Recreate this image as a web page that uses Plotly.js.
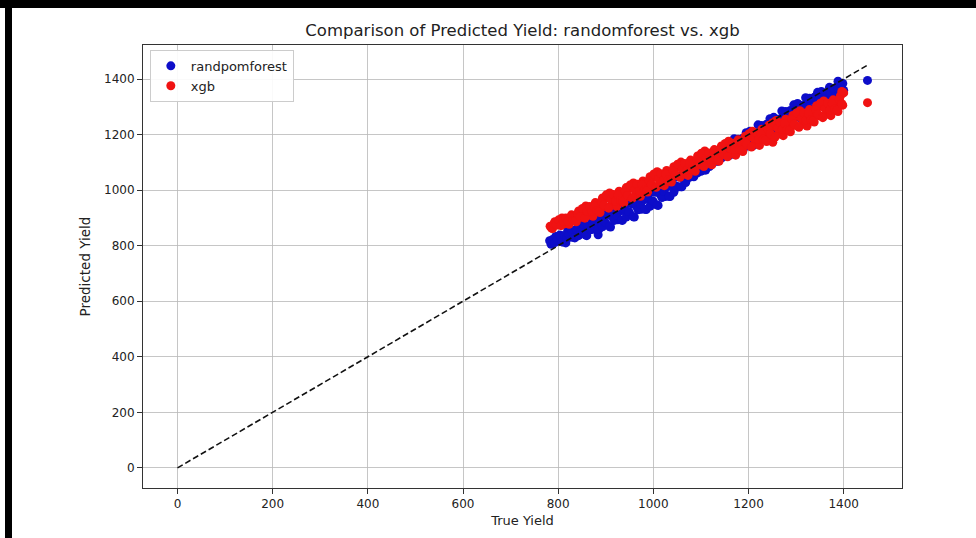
<!DOCTYPE html>
<html>
<head>
<meta charset="utf-8">
<script src="https://cdn.plot.ly/plotly-3.0.1.min.js"></script>
<style>
html,body{margin:0;padding:0;background:#fff;width:976px;height:538px;overflow:hidden;}
#chart{position:absolute;left:0;top:0;width:976px;height:538px;}
#bt{position:absolute;left:0;top:0;width:976px;height:8px;background:#000;z-index:10;}
#bl{position:absolute;left:5px;top:0;width:7px;height:538px;background:#000;z-index:10;}
</style>
</head>
<body>
<div id="chart"></div>
<div id="bt"></div>
<div id="bl"></div>
<script>
// randomforest: true vs predicted
const rfTrue = [785,790,795,800,805,810,815,820,825,830,835,840,845,850,855,860,865,870,875,880,885,890,895,900,905,910,915,920,925,930,935,940,945,950,955,960,965,970,975,980,985,990,995,1000,1005,1010,1015,1020,1025,1030,1035,1040,1045,1050,1055,1060,1065,1070,1075,1080,1085,1090,1095,1100,1105,1110,1115,1120,1125,1130,1135,1140,1145,1150,1155,1160,1165,1170,1175,1180,1185,1190,1195,1200,1205,1210,1215,1220,1225,1230,1235,1240,1245,1250,1255,1260,1265,1270,1275,1280,1285,1290,1295,1300,1305,1310,1315,1320,1325,1330,1335,1340,1345,1350,1355,1360,1365,1370,1375,1380,1385,1390,1395,1400,782,816,884,1388,1398,1392,1450,
788,793,798,803,808,813,818,823,828,833,838,843,848,853,858,863,868,873,878,883,888,893,898,903,908,913,918,923,928,933,938,943,948,953,958,963,968,973,978,983,988,993,998,1003,1008,1013,1018,1023,1028,1033,1038,1043,1048,1053,1058,1063,1068,1073,1078,1083,1088,1093,1098,1103,1108,1113,1118,1123,1128,1133,1138,1143,1148,1153,1158,1163,1168,1173,1178,1183,1188,1193,1198,1203,1208,1213,1218,1223,1228,1233,1238,1243,1248,1253,1258,1263,1268,1273,1278,1283,1288,1293,1298,1303,1308,1313,1318,1323,1328,1333,1338,1343,1348,1353,1358,1363,1368,1373,1378,1383,1388,1393,1398];
const rfPred = [805,820,833,819,837,813,833,855,830,851,828,854,874,848,874,836,866,896,859,887,857,889,913,881,912,867,901,936,893,925,891,926,953,918,951,903,940,976,931,965,930,966,993,958,992,945,983,1022,977,1013,977,1016,1046,1010,1047,1012,1037,1077,1045,1068,1048,1073,1101,1068,1102,1072,1094,1132,1100,1124,1104,1128,1156,1123,1157,1125,1148,1185,1150,1176,1155,1179,1207,1173,1207,1160,1198,1235,1191,1226,1192,1229,1257,1223,1257,1210,1248,1285,1241,1276,1242,1279,1307,1273,1307,1260,1297,1333,1291,1323,1291,1327,1352,1321,1351,1309,1341,1370,1335,1361,1336,1362,1380,1359,818,810,839,1392,1384,1375,1395,
822,811,821,838,814,837,828,840,855,829,859,836,851,877,838,872,857,874,894,858,896,868,886,916,869,909,891,910,933,892,934,903,923,956,904,947,929,949,972,931,974,942,962,997,946,991,973,995,1021,978,1025,992,1015,1051,1012,1045,1027,1050,1076,1050,1081,1062,1072,1107,1072,1101,1085,1106,1131,1105,1136,1115,1127,1162,1125,1155,1138,1159,1183,1155,1187,1156,1177,1212,1161,1205,1188,1209,1233,1193,1237,1206,1227,1262,1211,1255,1238,1259,1283,1243,1287,1256,1277,1312,1261,1305,1287,1308,1331,1292,1334,1305,1325,1355,1310,1348,1332,1348,1367,1337,1368,1347,1361];

// xgb: true vs predicted
const xgbTrue = [783,788,793,798,803,808,813,818,823,828,833,838,843,848,853,858,863,868,873,878,883,888,893,898,903,908,913,918,923,928,933,938,943,948,953,958,963,968,973,978,983,988,993,998,1003,1008,1013,1018,1023,1028,1033,1038,1043,1048,1053,1058,1063,1068,1073,1078,1083,1088,1093,1098,1103,1108,1113,1118,1123,1128,1133,1138,1143,1148,1153,1158,1163,1168,1173,1178,1183,1188,1193,1198,1203,1208,1213,1218,1223,1228,1233,1238,1243,1248,1253,1258,1263,1268,1273,1278,1283,1288,1293,1298,1303,1308,1313,1318,1323,1328,1333,1338,1343,1348,1353,1358,1363,1368,1373,1378,1383,1388,1393,1398,1400,1396,1251,1450,
786,791,796,801,806,811,816,821,826,831,836,841,846,851,856,861,866,871,876,881,886,891,896,901,906,911,916,921,926,931,936,941,946,951,956,961,966,971,976,981,986,991,996,1001,1006,1011,1016,1021,1026,1031,1036,1041,1046,1051,1056,1061,1066,1071,1076,1081,1086,1091,1096,1101,1106,1111,1116,1121,1126,1131,1136,1141,1146,1151,1156,1161,1166,1171,1176,1181,1186,1191,1196,1201,1206,1211,1216,1221,1226,1231,1236,1241,1246,1251,1256,1261,1266,1271,1276,1281,1286,1291,1296,1301,1306,1311,1316,1321,1326,1331,1336,1341,1346,1351,1356,1361,1366,1371,1376,1381,1386,1391,1396];
const xgbPred = [870,862,886,874,889,900,879,895,877,911,902,886,925,902,927,943,909,933,906,955,940,919,972,941,972,990,946,974,941,996,978,954,1009,976,1007,1026,982,1010,978,1033,1016,993,1048,1016,1047,1066,1021,1049,1016,1071,1053,1029,1084,1052,1082,1101,1057,1085,1053,1108,1091,1068,1123,1091,1122,1141,1096,1124,1091,1146,1128,1104,1159,1127,1157,1176,1131,1159,1126,1181,1163,1139,1194,1162,1192,1212,1166,1195,1161,1219,1200,1175,1234,1198,1231,1251,1202,1232,1196,1255,1236,1210,1269,1233,1266,1286,1237,1266,1231,1290,1271,1245,1304,1268,1301,1321,1273,1302,1268,1325,1307,1283,1339,1306,1350,1355,1172,1315,
863,879,875,893,872,889,900,888,902,891,889,915,905,934,899,924,941,923,942,926,923,959,946,983,935,966,984,961,982,962,959,996,981,1018,971,1002,1021,998,1020,1000,998,1035,1021,1058,1010,1041,1059,1036,1057,1037,1034,1071,1056,1093,1046,1077,1096,1073,1095,1075,1073,1110,1096,1133,1085,1116,1134,1111,1132,1112,1109,1146,1131,1168,1120,1151,1169,1146,1167,1147,1144,1181,1166,1203,1155,1187,1206,1182,1204,1183,1180,1220,1203,1243,1191,1224,1243,1218,1240,1218,1215,1255,1238,1278,1226,1259,1278,1253,1275,1253,1250,1290,1273,1313,1261,1294,1313,1289,1311,1291,1288,1326,1311];

const lineX = [0,1450];
const lineY = [0,1450];
const tickVals = [0,200,400,600,800,1000,1200,1400];

const traces = [
  {x: rfTrue, y: rfPred, type:'scatter', mode:'markers', name:'randpomforest',
   marker:{color:'#0d0dc9', size:9, line:{width:0}}},
  {x: xgbTrue, y: xgbPred, type:'scatter', mode:'markers', name:'xgb',
   marker:{color:'#f01212', size:9, line:{width:0}}},
  {x: lineX, y: lineY, type:'scatter', mode:'lines', showlegend:false,
   line:{color:'#111', width:1.6, dash:'6px,3px'}}
];

const axisCommon = {
  range:[-72.5,1522.5], tickvals:tickVals, showgrid:true, gridcolor:'#b8b8b8', gridwidth:0.8,
  zeroline:false, showline:true, mirror:true, linecolor:'#333', linewidth:1,
  ticks:'outside', ticklen:5, tickcolor:'#333', tickfont:{family:'DejaVu Sans', size:12, color:'#222'}
};

const layout = {
  width:976, height:538,
  margin:{l:143, r:74, t:45, b:50},
  paper_bgcolor:'#fff', plot_bgcolor:'#fff',
  font:{family:'DejaVu Sans', color:'#222'},
  title:{text:'Comparison of Predicted Yield: randomforest vs. xgb', font:{size:16.5, family:'DejaVu Sans', color:'#222'},
         x:0.5, xref:'paper', y:1-30/538, yref:'container', yanchor:'middle'},
  xaxis:Object.assign({}, axisCommon, {title:{text:'True Yield', font:{size:13}, standoff:5}}),
  yaxis:Object.assign({}, axisCommon, {title:{text:'Predicted Yield', font:{size:13.5}, standoff:10}}),
  legend:{x:0.009, y:0.989, xanchor:'left', yanchor:'top', bgcolor:'rgba(255,255,255,0.9)',
          bordercolor:'#cccccc', borderwidth:1, font:{size:13, family:'DejaVu Sans', color:'#222'}},
  showlegend:true
};

Plotly.newPlot('chart', traces, layout, {displayModeBar:false, staticPlot:true});
</script>
</body>
</html>
